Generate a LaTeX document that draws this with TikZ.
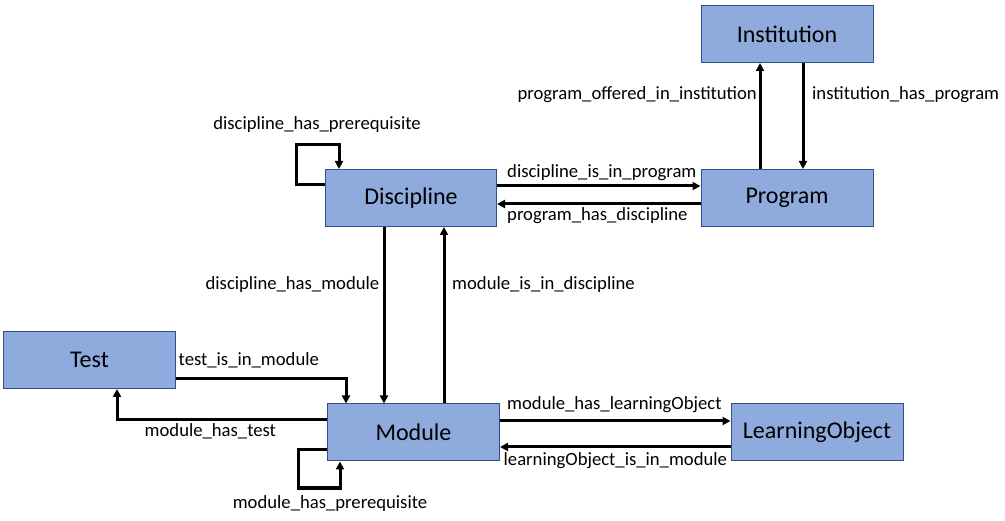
\documentclass[tikz,border=0pt]{standalone}
\usepackage{fontspec}
\setmainfont{Carlito}
\usetikzlibrary{arrows.meta,calc}
\definecolor{boxfill}{HTML}{8FAADC}
\definecolor{boxline}{HTML}{2F528F}
\tikzset{
         entity/.style=
          {
           draw=boxline,fill=boxfill,line width=1pt,
           minimum width=172pt,minimum height=57pt,
           font=\fontsize{24}{28}\selectfont
          },
         rel/.style={line width=3pt,-{Triangle[length=8pt,width=8pt]}},
         lbl/.style={inner sep=0pt,font=\fontsize{18.67}{22}\selectfont}
        }

\begin{document}
\begin{tikzpicture}[x=1pt,y=-1pt]
      \useasboundingbox (0,0) rectangle (1005,521);
      \node[entity] (Institution) at (787,34){Institution};
      \node[entity] (Program) at (787,198){Program};
      \node[entity,minimum width=171pt] (Discipline) at (411,198){Discipline};
      \node[entity] (Test) at (89.5,360){Test};
      \node[entity] (Module) at (413.5,432.5){Module};
      \node[entity] (LearningObject) at (817,432.5){LearningObject};
      %connectors
      \draw[rel](Program.north -| 760,0)--(Institution.south -| 760,0);
      \draw[rel](Institution.south -| 803,0)--(Program.north -| 803,0);
      \draw[rel](Discipline.east |- 0,186)--(Program.west |- 0,186);
      \draw[rel](Program.west |- 0,204)--(Discipline.east |- 0,204);
      \draw[rel](Discipline.west |- 0,185)--(296,185)--(296,145)--(339,145)--(Discipline.north -| 339,0); %loop
      \draw[rel](Discipline.south -| 384,0)--(Module.north -| 384,0);
      \draw[rel](Module.north -| 444,0)--(Discipline.south -| 444,0);
      \draw[rel](Test.east |- 0,379)--(346,379)--(Module.north -| 346,0);
      \draw[rel](Module.west |- 0,420)--(117,420)--(Test.south -| 117,0);
      \draw[rel](Module.west |- 0,450)--(298,450)--(298,488)--(340,488)--(Module.south -| 340,0); %loop
      \draw[rel](Module.east |- 0,421)--(LearningObject.west |- 0,421);
      \draw[rel](LearningObject.west |- 0,447)--(Module.east |- 0,447);
      %labels
      \node[lbl,anchor=base east] (lOffered) at (757,100){program\_offered\_in\_institution};
      \node[lbl,anchor=base west] (lInstHas) at (812,100){institution\_has\_program};
      \node[lbl,anchor=base west] (lDiscIn) at (507,178){discipline\_is\_in\_program};
      \node[lbl,anchor=base west] (lProgHas) at (507,221){program\_has\_discipline};
      \node[lbl,anchor=base] (lDiscPre) at (317,129.5){discipline\_has\_prerequisite};
      \node[lbl,anchor=base east] (lDiscMod) at (379.5,290){discipline\_has\_module};
      \node[lbl,anchor=base west] (lModIn) at (452,290){module\_is\_in\_discipline};
      \node[lbl,anchor=base west] (lTestIn) at (178.5,365.5){test\_is\_in\_module};
      \node[lbl,anchor=base west] (lModTest) at (144.5,436.5){module\_has\_test};
      \node[lbl,anchor=base] (lModPre) at (330,508.5){module\_has\_prerequisite};
      \node[lbl,anchor=base west] (lModLO) at (507,409.5){module\_has\_learningObject};
      \node[lbl,anchor=base west] (lLOIn) at (503.5,466){learningObject\_is\_in\_module};
    \end{tikzpicture}
\end{document}
